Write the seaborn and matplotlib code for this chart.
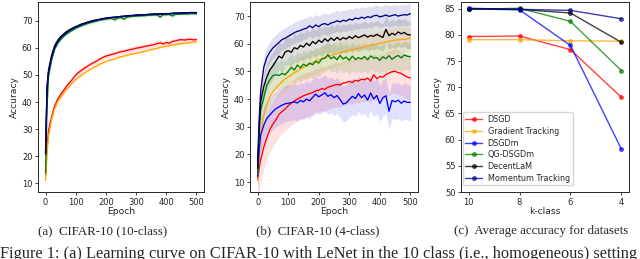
import matplotlib
matplotlib.use("Agg")
import matplotlib.pyplot as plt
import seaborn as sns
import pandas as pd
import numpy as np

# ---------------- data ----------------
METHODS = ["DSGD", "Gradient Tracking", "DSGDm", "QG-DSGDm", "DecentLaM", "Momentum Tracking"]
COLORS = ["red", "orange", "blue", "green", "black", "darkblue"]

EPOCHS = [0, 5] + list(range(10, 501, 10))

# panel (a): CIFAR-10 (10-class)
dsgd_a = [13.0, 24.0, 29.5, 34.5, 38.5, 41.0, 42.8, 44.3, 45.9, 47.2,
          48.6, 50.0, 51.0, 51.8, 52.6, 53.3, 54.0, 54.6, 55.2, 55.9,
          56.5, 57.0, 57.3, 57.6, 57.9, 58.3, 58.6, 58.8, 59.1, 59.4,
          59.6, 59.9, 60.1, 60.3, 60.6, 60.8, 61.0, 61.3, 61.6, 61.9,
          61.5, 62.0, 61.7, 62.4, 62.6, 62.9, 63.1, 62.9, 63.1, 63.2,
          63.0, 63.1]
gt_a = [11.0, 21.0, 27.5, 33.5, 37.5, 40.0, 41.8, 43.3, 44.8, 46.0,
        47.2, 48.3, 49.2, 50.0, 50.8, 51.5, 52.2, 52.8, 53.4, 54.0,
        54.5, 55.0, 55.4, 55.7, 56.0, 56.4, 56.8, 57.0, 57.3, 57.6,
        57.8, 58.0, 58.3, 58.5, 58.8, 59.1, 59.4, 59.6, 59.9, 60.2,
        60.4, 60.6, 60.8, 61.0, 61.2, 61.4, 61.6, 61.7, 61.9, 62.0,
        62.2, 62.3]
dsgdm_a = [20.5, 44.5, 50.8, 56.2, 60.0, 62.1, 63.5, 64.6, 65.5, 66.3,
           67.0, 67.6, 68.1, 68.5, 69.0, 69.3, 69.7, 70.0, 70.2, 70.5,
           70.7, 70.9, 71.1, 71.2, 71.3, 71.5, 71.5, 71.7, 71.8, 71.9,
           72.0, 72.0, 72.1, 72.2, 72.3, 72.3, 72.4, 72.5, 72.5, 72.5,
           72.6, 72.7, 72.7, 72.7, 72.8, 72.9, 72.9, 72.9, 73.0, 73.0,
           73.1, 72.9]
qg_a = [13.8, 38.0, 49.5, 55.5, 59.5, 61.6, 63.1, 64.3, 65.2, 66.0,
        66.6, 67.3, 67.8, 68.3, 68.7, 69.1, 69.4, 69.7, 70.0, 70.3,
        70.5, 70.7, 70.9, 70.9, 70.4, 71.1, 71.2, 70.6, 71.4, 71.6,
        71.7, 71.8, 71.9, 71.9, 72.0, 72.1, 72.1, 72.2, 72.2, 71.4,
        72.3, 72.3, 72.4, 71.8, 72.4, 72.5, 72.5, 72.6, 72.6, 72.7,
        72.7, 72.6]
decent_a = [21.2, 45.8, 52.0, 57.2, 60.8, 62.8, 64.2, 65.2, 66.1, 66.8,
            67.4, 67.9, 68.4, 68.9, 69.2, 69.6, 69.9, 70.2, 70.4, 70.6,
            70.9, 71.0, 71.2, 71.3, 71.4, 71.5, 71.7, 71.7, 71.9, 72.0,
            72.0, 72.2, 72.2, 72.3, 72.3, 72.4, 72.5, 72.5, 72.6, 72.6,
            72.7, 72.7, 72.7, 72.8, 72.9, 72.8, 73.0, 72.9, 73.0, 73.1,
            73.0, 73.1]
mt_a = [20.8, 45.0, 51.2, 56.6, 60.2, 62.3, 63.7, 64.8, 65.7, 66.5,
        67.1, 67.7, 68.2, 68.6, 69.1, 69.4, 69.8, 70.0, 70.3, 70.6,
        70.7, 71.0, 71.1, 71.3, 71.3, 71.5, 71.6, 71.7, 71.8, 71.9,
        72.0, 72.1, 72.2, 72.2, 72.3, 72.4, 72.4, 72.5, 72.5, 72.6,
        72.6, 72.6, 72.7, 72.8, 72.8, 72.8, 72.9, 73.0, 72.9, 73.1,
        73.1, 73.0]
spread_a = [1.0, 0.6, 0.4, 0.5, 0.4, 0.4]

# panel (b): CIFAR-10 (4-class)
dsgd_b = [11.0, 15.0, 18.0, 22.5, 26.0, 29.0, 31.0, 32.5, 34.5, 35.5,
          36.4, 37.6, 38.5, 39.3, 40.0, 40.6, 41.2, 41.6, 42.0, 42.3,
          43.0, 43.2, 43.8, 43.5, 44.3, 44.6, 45.0, 45.3, 45.1, 45.8,
          46.0, 46.4, 46.0, 46.8, 46.5, 47.2, 47.0, 47.6, 46.5, 48.8,
          47.4, 48.2, 47.9, 48.9, 49.4, 49.9, 50.0, 49.6, 49.3, 48.6,
          48.0, 47.6]
gt_b = [10.5, 20.0, 27.0, 34.0, 38.0, 40.8, 42.6, 44.0, 45.2, 46.3,
        47.2, 48.0, 48.8, 49.5, 50.2, 50.9, 51.5, 52.0, 52.6, 53.1,
        53.7, 54.2, 54.6, 55.0, 55.4, 55.8, 56.1, 56.4, 56.7, 57.0,
        57.3, 57.6, 57.9, 58.1, 58.4, 58.6, 58.9, 59.1, 59.4, 59.7,
        59.9, 60.2, 60.4, 60.7, 60.9, 61.1, 61.3, 61.4, 61.5, 61.6,
        61.8, 62.0]
dsgdm_b = [12.0, 22.0, 27.0, 30.5, 33.0, 34.3, 35.5, 36.5, 37.2, 37.8,
           38.3, 38.5, 38.7, 39.0, 38.6, 39.5, 39.0, 40.0, 39.4, 40.6,
           41.8, 40.8, 41.5, 42.3, 41.0, 41.6, 40.5, 41.3, 39.8, 38.2,
           38.6, 39.8, 41.0, 40.2, 42.0, 40.5, 41.5, 39.6, 42.2, 40.0,
           41.3, 38.4, 40.5, 41.2, 35.6, 39.5, 39.0, 39.6, 38.5, 39.3,
           38.8, 38.8]
qg_b = [13.0, 28.0, 36.0, 40.5, 45.0, 47.0, 48.5, 48.8, 48.5, 49.3,
        48.8, 50.0, 51.5, 50.5, 52.3, 51.3, 52.6, 52.0, 53.0, 52.4,
        53.7, 53.0, 54.5, 54.8, 56.0, 54.6, 55.3, 54.2, 55.8, 54.5,
        55.2, 54.0, 55.5, 54.3, 55.0, 54.5, 55.4, 54.2, 55.6, 54.8,
        55.0, 54.0, 55.3, 54.6, 55.7, 54.4, 55.2, 55.8, 54.9, 55.9,
        55.5, 55.3]
decent_b = [15.0, 30.0, 39.0, 44.5, 48.0, 50.5, 52.0, 53.8, 55.5, 54.8,
            57.0, 57.5, 56.9, 58.6, 58.1, 59.4, 58.8, 60.2, 59.3, 60.8,
            60.0, 61.3, 60.5, 61.8, 60.9, 62.1, 61.2, 62.3, 61.4, 62.2,
            61.7, 62.6, 61.9, 62.9, 62.2, 62.7, 63.2, 62.4, 63.0, 62.7,
            63.4, 62.8, 62.3, 65.2, 62.9, 63.8, 63.2, 64.3, 63.6, 64.1,
            63.3, 63.2]
mt_b = [17.0, 33.0, 43.0, 51.5, 55.0, 57.0, 58.5, 59.5, 60.5, 61.5,
        62.0, 62.7, 63.3, 64.0, 64.5, 64.8, 65.3, 65.6, 66.5, 65.8,
        66.8, 66.2, 67.0, 67.3, 66.8, 67.5, 67.8, 68.3, 67.9, 68.5,
        68.2, 68.9, 68.6, 69.3, 69.0, 69.6, 69.2, 69.8, 69.5, 70.1,
        70.3, 69.7, 70.0, 70.4, 69.9, 70.2, 70.5, 70.0, 70.3, 70.5,
        70.4, 70.9]
spread_b = [8.0, 4.5, 6.5, 5.0, 5.0, 3.8]

# panel (c): average accuracy vs k-class
K_CLASS = [10, 8, 6, 4]
avg_dsgd = [79.7, 79.8, 77.2, 68.1]
avg_gt = [79.1, 79.1, 78.9, 78.8]
avg_dsgdm = [85.0, 84.8, 78.0, 58.2]
avg_qg = [84.9, 85.1, 82.6, 73.2]
avg_decent = [85.0, 84.9, 84.2, 78.6]
avg_mt = [85.1, 84.9, 84.7, 83.1]

# ---------------- style ----------------
sns.set_style("ticks")
plt.rcParams["font.family"] = ["DejaVu Sans"]
plt.rcParams["axes.linewidth"] = 0.7
plt.rcParams["xtick.major.width"] = 0.6
plt.rcParams["ytick.major.width"] = 0.6
plt.rcParams["xtick.major.size"] = 2.5
plt.rcParams["ytick.major.size"] = 2.5
plt.rcParams["xtick.major.pad"] = 1.5
plt.rcParams["ytick.major.pad"] = 1.5

palette = dict(zip(METHODS, COLORS))

W, H = 640, 259
fig = plt.figure(figsize=(6.4, 2.59), dpi=100)


def ax_at(x0, x1, y0, y1):
    return fig.add_axes([x0 / W, 1 - y1 / H, (x1 - x0) / W, (y1 - y0) / H])


def long_frame(series):
    rows = []
    for m, vals in zip(METHODS, series):
        rows.append(pd.DataFrame({"epoch": EPOCHS, "acc": vals, "method": m}))
    return pd.concat(rows, ignore_index=True)


def curve_panel(ax, series, spreads, band_alpha):
    df = long_frame(series)
    for m, vals, s, c in zip(METHODS, series, spreads, COLORS):
        v = np.asarray(vals)
        ax.fill_between(EPOCHS, v - s, v + s, color=c, alpha=band_alpha, lw=0)
    sns.lineplot(data=df, x="epoch", y="acc", hue="method", hue_order=METHODS,
                 palette=palette, estimator=None, linewidth=0.95, legend=False, ax=ax)
    ax.set_xlim(-25, 525)
    ax.set_xticks([0, 100, 200, 300, 400, 500])
    ax.set_yticks([10, 20, 30, 40, 50, 60, 70])
    ax.set_xlabel("Epoch", fontsize=6.6, labelpad=0.5)
    ax.set_ylabel("Accuracy", fontsize=6.6, labelpad=2)
    ax.tick_params(labelsize=6)


ax1 = ax_at(38, 204, 2, 192)
curve_panel(ax1, [dsgd_a, gt_a, dsgdm_a, qg_a, decent_a, mt_a], spread_a, 0.12)
ax1.set_ylim(6.7, 77.0)

ax2 = ax_at(250, 418, 2, 192)
curve_panel(ax2, [dsgd_b, gt_b, dsgdm_b, qg_b, decent_b, mt_b], spread_b, 0.12)
ax2.set_ylim(6.4, 75.1)

ax3 = ax_at(461, 629, 2, 192)
dfc = pd.concat([pd.DataFrame({"k": K_CLASS, "acc": v, "method": m})
                 for m, v in zip(METHODS, [avg_dsgd, avg_gt, avg_dsgdm, avg_qg, avg_decent, avg_mt])],
                ignore_index=True)
sns.lineplot(data=dfc, x="k", y="acc", hue="method", hue_order=METHODS, palette=palette,
             marker="o", markersize=3.5, markeredgewidth=0, linewidth=1.0, alpha=0.75,
             estimator=None, ax=ax3)
ax3.set_xlim(10.3, 3.7)
ax3.set_xticks(K_CLASS)
ax3.set_ylim(50, 86.3)
ax3.set_yticks([50, 55, 60, 65, 70, 75, 80, 85])
ax3.set_xlabel("k-class", fontsize=6.6, labelpad=0.5)
ax3.set_ylabel("Accuracy", fontsize=6.6, labelpad=2)
ax3.tick_params(labelsize=6)
leg = ax3.legend(loc="lower left", bbox_to_anchor=(0.01, 0.035), fontsize=5.8, frameon=True,
                 handlelength=2.0, handletextpad=0.75, labelspacing=0.33, borderpad=0.35,
                 borderaxespad=0.0, fancybox=True, framealpha=0.8, edgecolor="0.8", title=None)

# ---------------- captions ----------------
serif = ["Liberation Serif", "DejaVu Serif"]
fig.text(103 / W, 1 - 231 / H, "(a)  CIFAR-10 (10-class)", ha="center", va="center",
         family=serif, fontsize=9.3)
fig.text(318 / W, 1 - 231 / H, "(b)  CIFAR-10 (4-class)", ha="center", va="center",
         family=serif, fontsize=9.3)
fig.text(541 / W, 1 - 231 / H, "(c)  Average accuracy for datasets", ha="center", va="center",
         family=serif, fontsize=9.3)
fig.text(0.5 / W, 1 - 258.5 / H,
         "Figure 1: (a) Learning curve on CIFAR-10 with LeNet in the 10 class (i.e., homogeneous) setting",
         ha="left", va="baseline", family=serif, fontsize=11.8)

fig.savefig("out.png", dpi=100)
